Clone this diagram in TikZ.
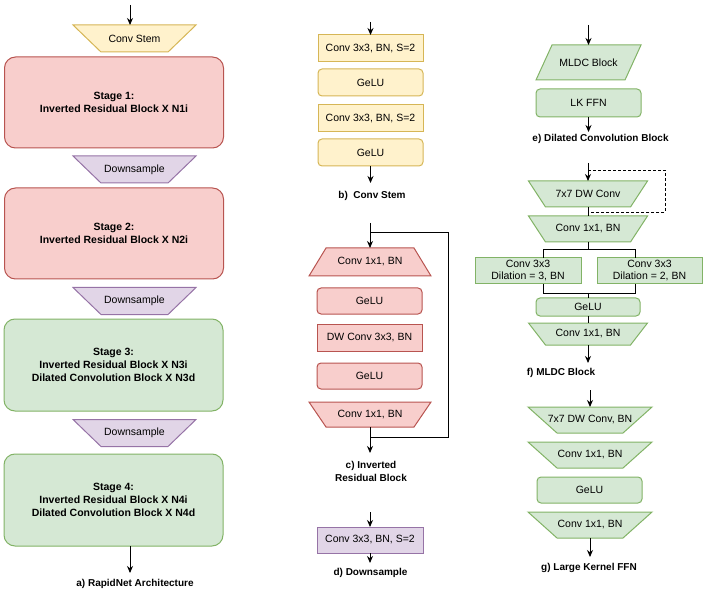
\documentclass[tikz,border=0pt]{standalone}
\usepackage{fontspec}
\setmainfont{Liberation Sans}
\usetikzlibrary{arrows.meta,calc}
\pgfdeclarelayer{background}
\pgfsetlayers{background,main}
\definecolor{yfill}{HTML}{FFF2CC}\definecolor{ystroke}{HTML}{D6B656}
\definecolor{rfill}{HTML}{F8CECC}\definecolor{rstroke}{HTML}{B85450}
\definecolor{pfill}{HTML}{E1D5E7}\definecolor{pstroke}{HTML}{9673A6}
\definecolor{gfill}{HTML}{D5E8D4}\definecolor{gstroke}{HTML}{82B366}
% wide top, narrow bottom
\newcommand{\trapW}[3]{\filldraw[#3] (#1.north west) -- (#1.north east) -- ([xshift=-#2]#1.south east) -- ([xshift=#2]#1.south west) -- cycle;}
% narrow top, wide bottom
\newcommand{\trapN}[3]{\filldraw[#3] ([xshift=#2]#1.north west) -- ([xshift=-#2]#1.north east) -- (#1.south east) -- (#1.south west) -- cycle;}
% parallelogram
\newcommand{\parallg}[3]{\filldraw[#3] ([xshift=#2]#1.north west) -- (#1.north east) -- ([xshift=-#2]#1.south east) -- (#1.south west) -- cycle;}
\begin{document}
\begin{tikzpicture}[x=1pt,y=-1pt,
  font=\fontsize{10.5}{12.5}\selectfont,
  every node/.style={inner sep=0pt, outer sep=0pt, align=center, text=black},
  sz/.style 2 args={minimum width=#1pt, minimum height=#2pt},
  yel/.style={fill=yfill, draw=ystroke, line width=1pt},
  red/.style={fill=rfill, draw=rstroke, line width=1pt},
  pur/.style={fill=pfill, draw=pstroke, line width=1pt},
  grn/.style={fill=gfill, draw=gstroke, line width=1pt},
  rnd/.style={rounded corners=4pt},
  stage/.style={rounded corners=11pt, font=\fontsize{10.5}{13}\selectfont\bfseries},
  arr/.style={-{Stealth[length=7pt,width=6pt]}, line width=0.9pt},
  ln/.style={line width=0.9pt},
  dsh/.style={line width=0.9pt, dash pattern=on 3pt off 2pt},
  lbl/.style={font=\fontsize{10}{13}\selectfont\bfseries},
]
\useasboundingbox (0,0) rectangle (706,601);

% ---------------- a) RapidNet Architecture ----------------
\node[sz={123}{27}] (cs) at (134.5,38.5) {Conv Stem};
\node[red, stage, sz={219}{91}] (st1) at (114,102.5) {Stage 1:\\Inverted Residual Block X N1i};
\node[sz={123}{27}] (ds1) at (134.5,169.5) {Downsample};
\node[red, stage, sz={219}{91}] (st2) at (114,233.5) {Stage 2:\\Inverted Residual Block X N2i};
\node[sz={123}{27}] (ds2) at (134.5,301) {Downsample};
\node[grn, stage, sz={219}{92}] (st3) at (113.5,365) {Stage 3:\\Inverted Residual Block X N3i\\Dilated Convolution Block X N3d};
\node[sz={123}{27}] (ds3) at (134.5,433) {Downsample};
\node[grn, stage, sz={219}{92}] (st4) at (113.5,500) {Stage 4:\\Inverted Residual Block X N4i\\Dilated Convolution Block X N4d};
\coordinate (a0) at (130,5);
\coordinate (a1) at (130,573);
\draw[arr] (a0) -- (a0 |- cs.north);
\draw[arr] (a1 |- st4.south) -- (a1);
\node[lbl] (la) at (135,584) {a) RapidNet Architecture};

% ---------------- b) Conv Stem ----------------
\node[yel, sz={105}{27}] (cb1) at (370.5,48.5) {Conv 3x3, BN, S=2};
\node[yel, rnd, sz={105}{27}] (cb2) at (370.5,82.5) {GeLU};
\node[yel, sz={105}{27}] (cb3) at (370.5,118.5) {Conv 3x3, BN, S=2};
\node[yel, rnd, sz={105}{27}] (cb4) at (370.5,152.5) {GeLU};
\coordinate (b0) at (370.5,22);
\coordinate (b1) at (370.5,183);
\draw[arr] (b0) -- (cb1.north);
\draw[arr] (cb4.south) -- (b1);
\node[lbl] (lb) at (372,196) {b)~ Conv Stem};

% ---------------- c) Inverted Residual Block ----------------
\node[sz={122}{28}] (ir1) at (370,262) {Conv 1x1, BN};
\node[red, rnd, sz={105}{26}] (ir2) at (369.5,301) {GeLU};
\node[red, sz={105}{27}] (ir3) at (369.5,337.5) {DW Conv 3x3, BN};
\node[red, rnd, sz={105}{26}] (ir4) at (369.5,376) {GeLU};
\node[sz={122}{25}] (ir5) at (370,414.5) {Conv 1x1, BN};
\coordinate (c0) at (370,223);
\coordinate (c1) at (370,232);
\coordinate (c2) at (448,232);
\coordinate (c3) at (448,437);
\coordinate (c4) at (370,437);
\coordinate (c5) at (370,453);
\draw[arr] (c0) -- (ir1.north);
\draw[ln] (c1) -- (c2) -- (c3) -- (c4);
\draw[arr] (ir5.south) -- (c5);
\node[lbl] (lc) at (371,471.5) {c) Inverted\\Residual Block};

% ---------------- d) Downsample ----------------
\node[pur, sz={106}{26}] (dsb) at (370,540) {Conv 3x3, BN, S=2};
\coordinate (d0) at (370,512);
\coordinate (d1) at (370,563);
\draw[arr] (d0) -- (dsb.north);
\draw[arr] (dsb.south) -- (d1);
\node[lbl] (ld) at (370.5,573) {d) Downsample};

% ---------------- e) Dilated Convolution Block ----------------
\node[sz={105}{35}] (mldc) at (588.5,62.5) {MLDC Block};
\node[grn, rnd, sz={105}{28}] (lk) at (588.5,103) {LK FFN};
\coordinate (e0) at (588.5,25);
\coordinate (e1) at (588.5,132);
\draw[arr] (e0) -- (mldc.north);
\draw[arr] (lk.south) -- (e1);
\node[lbl] (le) at (600.5,139) {e) Dilated Convolution Block};

% ---------------- f) MLDC Block ----------------
\node[sz={119}{26}] (m1) at (588,194) {7x7 DW Conv};
\node[sz={119}{26}] (m2) at (588,229) {Conv 1x1, BN};
\node[grn, sz={106}{26}, font=\fontsize{10.5}{12}\selectfont] (m3) at (528,271) {Conv 3x3\\Dilation = 3, BN};
\node[grn, sz={105}{26}, font=\fontsize{10.5}{12}\selectfont] (m4) at (649.5,271) {Conv 3x3\\Dilation = 2, BN};
\node[grn, rnd, sz={104}{18}] (m5) at (588,307) {GeLU};
\node[sz={119}{22}] (m6) at (588,334) {Conv 1x1, BN};
\coordinate (f0) at (588,163);
\coordinate (f1) at (588,170);
\coordinate (f2) at (665,170);
\coordinate (f3) at (665,212);
\coordinate (f4) at (588,212);
\draw[arr] (f0) -- (m1.north);
\draw[dsh] (f1) -- (f2) -- (f3) -- (f4);
\draw[ln] (m1.south) -- (m2.north);
\coordinate (sp) at (588,249);
\coordinate (spl) at (543,249);
\coordinate (spr) at (635,249);
\draw[ln] (m2.south) -- (sp);
\draw[ln] (spl |- m3.north) -- (spl) -- (spr) -- (spr |- m4.north);
\coordinate (jn) at (588,293);
\coordinate (jnl) at (543,293);
\coordinate (jnr) at (635,293);
\draw[ln] (jnl |- m3.south) -- (jnl) -- (jnr) -- (jnr |- m4.south);
\draw[ln] (jn) -- (m5.north);
\draw[ln] (m5.south) -- (m6.north);
\coordinate (f9) at (588,363);
\draw[arr] (m6.south) -- (f9);
\node[lbl] (lf) at (561,373) {f) MLDC Block};

% ---------------- g) Large Kernel FFN ----------------
\node[sz={124}{26}] (g1) at (590,420) {7x7 DW Conv, BN};
\node[sz={124}{26}] (g2) at (590,455) {Conv 1x1, BN};
\node[grn, rnd, sz={105}{26}] (g3) at (589.5,490) {GeLU};
\node[sz={124}{26}] (g4) at (590,525) {Conv 1x1, BN};
\coordinate (g0) at (590,390);
\coordinate (g9) at (590,557);
\draw[arr] (g0) -- (g1.north);
\draw[arr] (g4.south) -- (g9);
\node[lbl] (lg) at (589,568) {g) Large Kernel FFN};

% ---------------- shapes behind the texts ----------------
\begin{pgfonlayer}{background}
\trapW{cs}{28pt}{yel}
\trapW{ds1}{28pt}{pur}
\trapW{ds2}{28pt}{pur}
\trapW{ds3}{28pt}{pur}
\trapN{ir1}{17pt}{red}
\trapW{ir5}{17pt}{red}
\parallg{mldc}{16pt}{grn}
\trapW{m1}{17pt}{grn}
\trapW{m2}{17pt}{grn}
\trapW{m6}{17pt}{grn}
\trapW{g1}{29pt}{grn}
\trapW{g2}{29pt}{grn}
\trapW{g4}{29pt}{grn}
\end{pgfonlayer}
\end{tikzpicture}
\end{document}
